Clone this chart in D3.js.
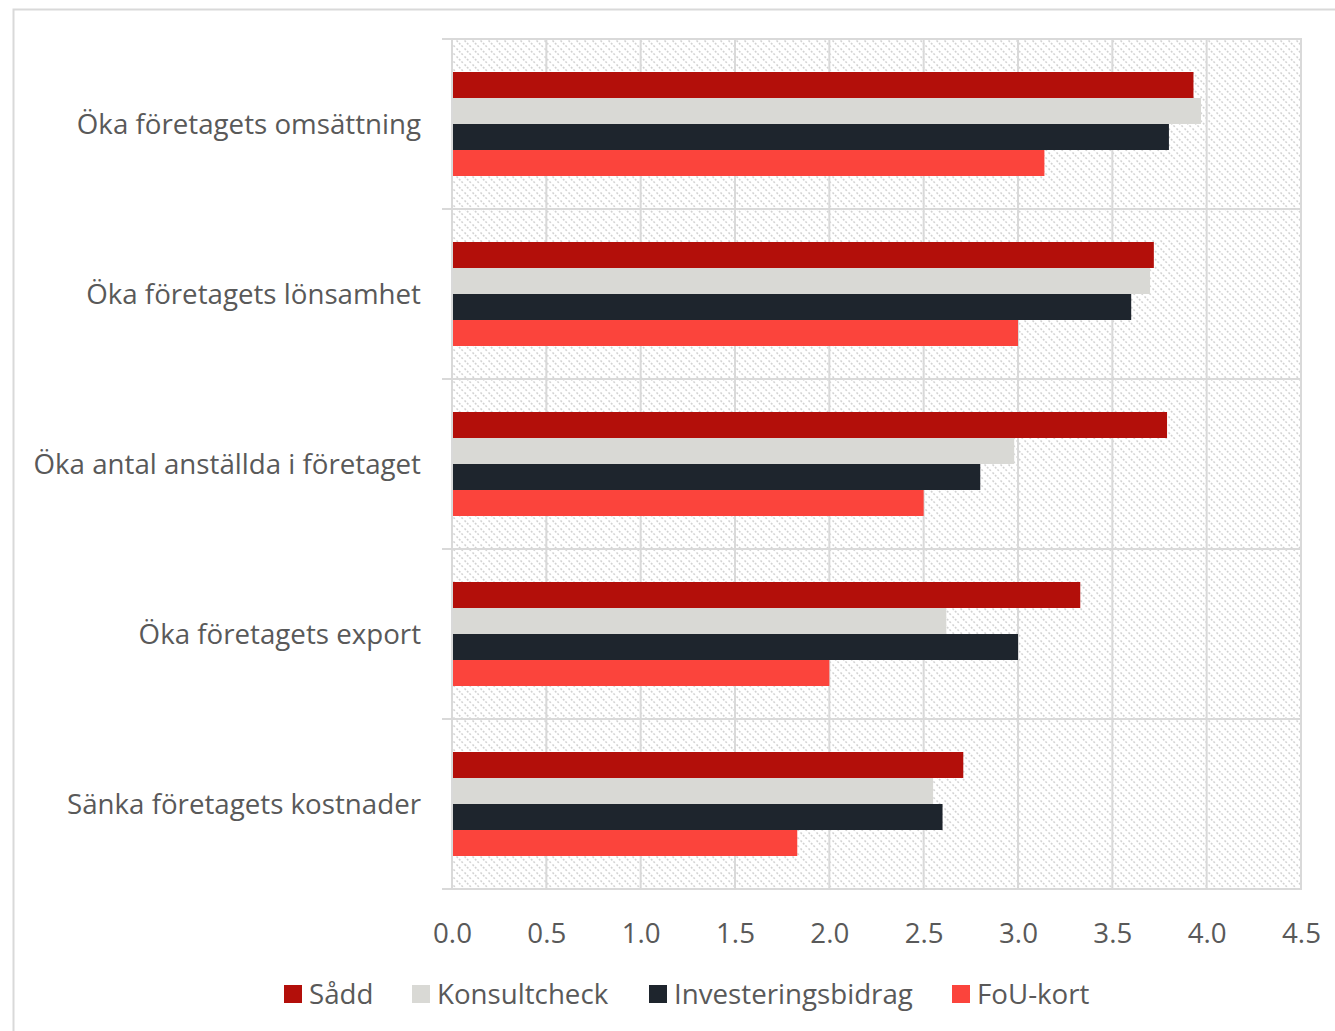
<!DOCTYPE html>
<html><head><meta charset="utf-8">
<script src="https://cdn.jsdelivr.net/npm/d3@7"></script>
<style>body{margin:0;background:#fff;} svg{display:block;}</style>
</head><body>
<svg id="c" width="1335" height="1031"></svg>
<script>
const categories = ["Öka företagets omsättning","Öka företagets lönsamhet","Öka antal anställda i företaget","Öka företagets export","Sänka företagets kostnader"];
const seriesNames = ["Sådd","Konsultcheck","Investeringsbidrag","FoU-kort"];
const seriesColors = ["#b30f0a","#d9d9d5","#1e252d","#fb443c"];
const sadd = [3.93, 3.72, 3.79, 3.33, 2.71];
const konsultcheck = [3.97, 3.70, 2.98, 2.62, 2.55];
const investeringsbidrag = [3.80, 3.60, 2.80, 3.00, 2.60];
const fouKort = [3.14, 3.00, 2.50, 2.00, 1.83];
const tickValues = [0,0.5,1,1.5,2,2.5,3,3.5,4,4.5];
const allSeries = [sadd, konsultcheck, investeringsbidrag, fouKort];

const svg = d3.select("#c");
const font = "'Open Sans', sans-serif";
const fs = 27.7;
const textColor = "#595959";
const gridColor = "#d9d9d9";

// outer border
svg.append("rect").attr("x",13.5).attr("y",9.5).attr("width",1340).attr("height",1040)
  .attr("fill","none").attr("stroke","#d9d9d9").attr("stroke-width",2);

const x = d3.scaleLinear().domain([0,4.5]).range([452,1301]);
const y = d3.scaleBand().domain(categories).range([39,889]);
const inner = d3.scaleBand().domain(seriesNames).range([33,137]);

// hatch pattern
const defs = svg.append("defs");
const pat = defs.append("pattern").attr("id","hatch").attr("patternUnits","userSpaceOnUse")
  .attr("width",8).attr("height",8);
pat.append("rect").attr("width",8).attr("height",8).attr("fill","#fff");
pat.append("path").attr("d","M-2,-2 L10,10 M-2,6 L2,10 M6,-2 L10,2")
  .attr("stroke","#d2d2d2").attr("stroke-width",1.5).attr("stroke-dasharray","2,1.5");

svg.append("rect").attr("x",x(0)).attr("y",39).attr("width",x(4.5)-x(0)).attr("height",850)
  .attr("fill","url(#hatch)");

// vertical gridlines
svg.append("g").selectAll("line").data(tickValues).join("line")
  .attr("x1",d=>x(d)).attr("x2",d=>x(d)).attr("y1",39).attr("y2",889)
  .attr("stroke",gridColor).attr("stroke-width",2);
// horizontal category lines
const hlines = categories.map(c=>y(c)).concat([y.range()[1]]);
svg.append("g").selectAll("line").data(hlines).join("line")
  .attr("x1",442).attr("x2",x(4.5)+1).attr("y1",d=>d).attr("y2",d=>d)
  .attr("stroke",gridColor).attr("stroke-width",2);

// bars
const g = svg.append("g");
seriesNames.forEach((s,i)=>{
  g.append("g").selectAll("rect").data(categories).join("rect")
    .attr("x",x(0)+1).attr("y",c=>y(c)+inner(s))
    .attr("width",(c,j)=>x(allSeries[i][j])-x(0)-1).attr("height",inner.bandwidth())
    .attr("fill",seriesColors[i]);
});

// category labels
svg.append("g").selectAll("text").data(categories).join("text")
  .attr("x",421).attr("y",c=>y(c)+y.bandwidth()/2+3)
  .attr("text-anchor","end").attr("dominant-baseline","middle")
  .attr("font-family",font).attr("font-size",fs).attr("fill",textColor).text(d=>d);

// x axis labels
const xAxis = d3.axisBottom(x).tickValues(tickValues).tickFormat(d3.format(".1f")).tickSize(0).tickPadding(0);
const ax = svg.append("g").attr("transform","translate(0,936)").call(xAxis);
ax.select(".domain").remove();
ax.selectAll("text").attr("font-family",font).attr("font-size",fs).attr("fill",textColor)
  .attr("dy",null).attr("dominant-baseline","middle");

// legend
const legendX = [284, 412, 649, 952];
const lg = svg.append("g").selectAll("g").data(seriesNames).join("g")
  .attr("transform",(d,i)=>`translate(${legendX[i]},985)`);
lg.append("rect").attr("width",18).attr("height",18).attr("fill",(d,i)=>seriesColors[i]);
lg.append("text").attr("x",25).attr("y",12).attr("dominant-baseline","middle")
  .attr("font-family",font).attr("font-size",fs).attr("fill",textColor).text(d=>d);
</script>
</body></html>
